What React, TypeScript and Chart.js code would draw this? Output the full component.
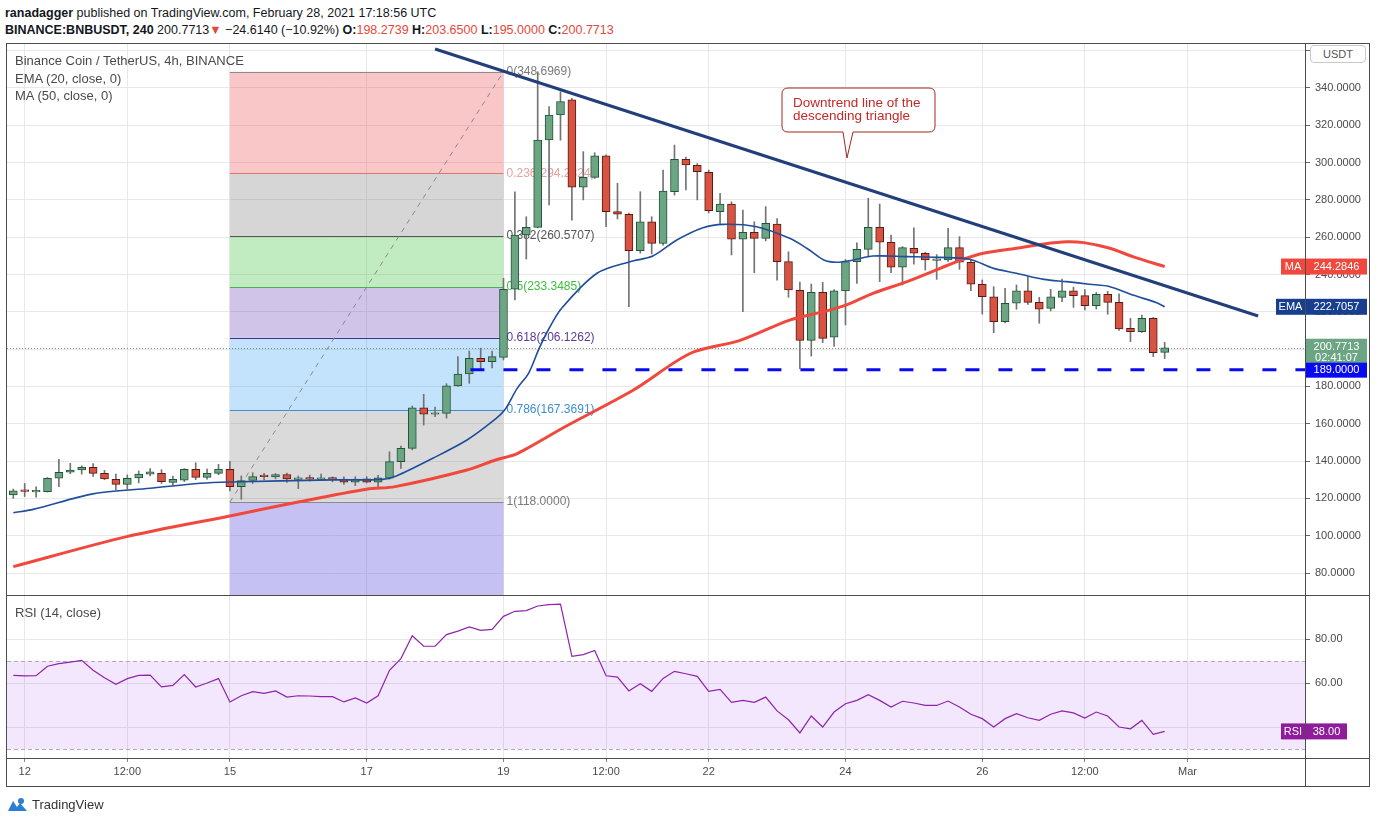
import React, { useEffect, useRef } from "react";
import { Chart, registerables } from "chart.js";

Chart.register(...registerables);

const FONT = "'Liberation Sans', Arial, sans-serif";

// ---- OHLC (4h candles, Feb 11 20:00 -> Feb 28 16:00) ----
const opens = [121.8, 124.2, 123.5, 123.6, 130.8, 134, 135.2, 136.6, 133.4, 130.2,
  127.5, 131, 133, 133.4, 128.6, 129.8, 135.6, 131.3, 133.4, 135.6,
  126.3, 129.6, 132.5, 131.5, 132.8, 130.2, 131, 130.2, 130.5, 130.4,
  128.7, 130.5, 128.7, 130.8, 139.7, 146.8, 168.6, 165.1, 165.6, 180.3,
  186.7, 195.1, 193.3, 195.6, 232.1, 261.2, 265.3, 312.1, 325.5, 333.6,
  286.8, 292.1, 303.7, 273.7, 272.3, 252.8, 268.3, 256.7, 284.4, 301.8,
  298.6, 294.8, 273.7, 277.8, 258.9, 262.6, 259.4, 267.1, 246.9, 231.5,
  204.7, 230.5, 206.4, 231.2, 246.9, 253.5, 265.3, 257.3, 243.9, 254.1,
  251.4, 247.6, 247.8, 254.4, 246.6, 234.8, 228.1, 214.7, 224.6, 231.3,
  225.1, 221.9, 227.8, 231.3, 228.7, 223.3, 229.4, 225.1, 211.2, 209.4,
  216.5, 198.2739];
const highs = [125, 128, 126.2, 131.2, 141, 138.8, 137.5, 138.7, 135, 133,
  132.6, 134.7, 136, 135.4, 132, 136, 139.1, 135.7, 138.3, 139.8,
  132, 133.8, 133.5, 133.3, 133.6, 132, 132.5, 133, 131.5, 131.6,
  131.6, 131.6, 132.3, 145, 148, 169.5, 175.8, 169, 181.5, 196,
  199, 200.5, 199, 238, 284.4, 271, 348.7, 330, 338, 334.5,
  305.9, 305.3, 304.2, 288.9, 273, 284.4, 271, 296, 309.4, 303,
  299.5, 296, 283.5, 279, 274.6, 268.3, 276.4, 270, 252.2, 236,
  234.9, 235.8, 232, 248, 257, 280.9, 277.8, 261.2, 255, 265.1,
  252, 250.7, 264.8, 260.3, 248, 237.1, 233.5, 232.6, 234.4, 238.9,
  227.8, 232.1, 237.5, 233.2, 232, 230.4, 231, 229.6, 216.5, 218.3,
  217, 203.65];
const lows = [120, 121, 120.6, 123.4, 126.3, 133.2, 133, 131.8, 130, 124.7,
  125, 128.3, 132, 128, 127, 129, 130, 130.3, 132.7, 124,
  119.5, 128, 130, 130.5, 128.6, 125.2, 129.3, 129.6, 128.9, 127.5,
  126.8, 128.3, 126.3, 130.3, 136, 146, 159.3, 163.8, 163, 180,
  181.7, 188.8, 190, 194.2, 226.4, 248.3, 265, 277.3, 312, 269.2,
  280, 291.5, 265.6, 269.8, 222.8, 251.5, 251, 255.8, 282.6, 285.3,
  280, 273, 267.1, 250.5, 220.1, 241, 258, 237, 227.8, 189.5,
  196.3, 203.5, 201.5, 213, 235.3, 249.6, 236.2, 241, 234.4, 245.5,
  242.4, 237.4, 247, 242.8, 231.3, 218.8, 208.8, 214, 221.4, 224,
  213.9, 220.5, 225.5, 222.4, 221, 221.5, 218.7, 210, 204, 209,
  196, 195];
const closes = [124, 123.8, 123.7, 130.8, 134, 135.2, 136.6, 133.4, 130.4, 127.5,
  130.8, 133, 134.2, 129, 130.2, 135.6, 131.3, 133.4, 135.7, 126.3,
  129.6, 131.7, 131.7, 132.8, 130.5, 131, 130.3, 130.5, 130.3, 128.7,
  130.4, 128.7, 131, 139.7, 146.8, 168.6, 165.1, 165.8, 180.3, 186.7,
  195.1, 193.3, 196, 232.1, 261.2, 265.3, 312.1, 325.5, 332.7, 286.8,
  292.1, 303.7, 273.7, 272.3, 252.8, 268.3, 256.7, 284.8, 301.8, 298.7,
  295.1, 274.2, 277.8, 258.9, 262.6, 259.4, 267.5, 246.9, 231.7, 204.7,
  230.5, 205.8, 231.2, 246.9, 253.5, 265.3, 257.3, 243.9, 254.4, 251.4,
  247.8, 248, 254.4, 246.6, 234.8, 228.1, 214.7, 224.6, 231.3, 225.1,
  221.4, 228.1, 231.3, 228.7, 223.3, 229.4, 225.1, 210.8, 209.4, 216.5,
  198.1, 200.7713];

// ---- EMA(20) & MA(50) (candle index, value) ----
const emaIdx = [0, 1.75, 7, 12, 16.4, 19, 28, 32.4, 33.6, 36.8, 39.8, 42, 43.1, 44.2, 45.2, 46.1, 46.9, 48.1,
  51.2, 54.1, 56.1, 58.2, 60.5, 62.3, 65.2, 68.1, 69.6, 71.1, 72.2, 73.7, 75.4, 78.4, 81.3, 83.9, 86, 88,
  90.4, 92.4, 94.4, 96.2, 98.2, 100.3, 101];
const emaVals = [112.3, 114.1, 122.4, 125.4, 128.1, 128.8, 129.9, 130.2, 132, 141.5, 151.3, 161.1, 167.4, 179, 187, 200, 210, 221.9,
  240.7, 246.9, 249.9, 258.5, 265.1, 266.9, 265.6, 259.4, 254.1, 247.8, 246.6, 247.8, 249.9, 249.6, 249.2, 248.2, 243.3, 240.7,
  237.4, 236.2, 234.8, 233.5, 229, 224.9, 222.7057];
const maIdx = [0, 9.95, 19, 25.1, 31, 33.5, 39.8, 42.3, 44.2, 48.4, 54.4, 59.4, 63.7, 68.1, 71.1, 73.1, 75.4, 78.4,
  81.3, 83, 85.1, 88, 90.4, 92.4, 93.9, 96.2, 98.2, 101];
const maVals = [83.4, 99.5, 110.6, 118.2, 124.9, 126.3, 135.2, 140.6, 144, 158.4, 178.1, 197.8, 204.6, 215.6, 220.1, 223.7, 229.9, 236.2,
  243.3, 247.5, 251.4, 254.1, 256.4, 257.6, 257.1, 254.1, 249.6, 244.2846];

// ---- RSI(14) ----
const rsiVals = [63.5, 63.2, 63.3, 67.6, 68.8, 69.5, 70.3, 65.8, 62.4, 59.4,
  62.0, 63.5, 63.6, 58.2, 58.9, 63.8, 58.2, 60.0, 62.0, 51.4,
  54.2, 56.1, 55.3, 56.4, 53.6, 54.2, 54.1, 53.8, 53.8, 51.4,
  53.2, 50.9, 54.2, 65.8, 71.1, 81.5, 76.7, 76.7, 82.0, 83.6,
  85.5, 83.9, 84.4, 90.3, 92.6, 92.9, 95.0, 95.6, 95.8, 72.1,
  72.9, 74.8, 63.3, 62.7, 56.4, 59.7, 56.2, 62.1, 65.3, 64.2,
  63.0, 56.2, 57.1, 51.2, 52.1, 51.2, 53.6, 47.3, 43.3, 37.3,
  45.0, 40.0, 46.8, 50.6, 52.1, 54.7, 52.1, 49.1, 51.7, 50.9,
  49.8, 49.8, 51.8, 49.1, 45.8, 43.8, 40.0, 43.8, 46.1, 44.2,
  43.0, 45.8, 47.3, 46.4, 44.1, 46.8, 45.0, 40.0, 39.2, 43.0,
  36.7, 38.0];
const rsiUpper = 70;
const rsiLower = 30;

// ---- axes ----
const priceTicks = [80, 100, 120, 140, 160, 180, 200, 220, 240, 260, 280, 300, 320, 340, 360];
const rsiTicks = [40, 60, 80];
const rsiLabelledTicks = [60, 80];
const timeTickIdx = [1, 10, 19, 31, 43, 52, 61, 73, 85, 94, 103];
const timeTickLabels = ["12", "12:00", "15", "17", "19", "12:00", "22", "24", "26", "12:00", "Mar"];

// ---- drawings ----
const fibLevels = [0, 0.236, 0.382, 0.5, 0.618, 0.786, 1];
const fibPrices = [348.6969, 294.2324, 260.5707, 233.3485, 206.1262, 167.3691, 118.0];
const fibStartIdx = 19;
const fibEndIdx = 43;
const trendIdx = [37, 109.2];
const trendVals = [360.9, 217.8];
const supportLevel = 189;
const supportIdx = [40.1, 113.4];
const lastPrice = 200.7713;
const emaLast = 222.7057;
const maLast = 244.2846;
const rsiLast = 38.0;

const fibZoneColors = [
  "rgba(235,80,80,0.32)", "rgba(120,120,120,0.30)", "rgba(76,200,76,0.35)", "rgba(100,60,180,0.30)",
  "rgba(33,150,243,0.27)", "rgba(120,120,120,0.27)", "rgba(90,80,220,0.35)"];
const fibLineColors = ["#8a8a8a", "#e57373", "#555555", "#4caf50", "#4a2a8c", "#3d8fd1", "#8a8a8a"];
const fibLabelColors = ["#7a7a7a", "#e8a0a0", "#555555", "#3fbf3f", "#5a3a9a", "#3d8fd1", "#7a7a7a"];

const UP = "#6ba583", UP_B = "#225437", DN = "#d75442", DN_B = "#5b1a13";

function tag(ctx: CanvasRenderingContext2D, x: number, y: number, w: number, h: number, bg: string, lines: string[], first = 8.5, step = 13) {
  ctx.fillStyle = bg;
  ctx.fillRect(x, y, w, h);
  ctx.fillStyle = "#ffffff";
  ctx.font = `11px ${FONT}`;
  ctx.textAlign = "center";
  ctx.textBaseline = "middle";
  lines.forEach((t, k) => ctx.fillText(t, x + w / 2, y + first + k * step));
}

const mainPlugin = {
  id: "mainDecor",
  beforeDatasetsDraw(chart: any) {
    const { ctx, chartArea: ca, scales } = chart;
    const x = scales.x, y = scales.y;
    ctx.save();
    ctx.beginPath();
    ctx.rect(ca.left, ca.top, ca.right - ca.left, ca.bottom - ca.top);
    ctx.clip();
    const x0 = x.getPixelForValue(fibStartIdx), x1 = x.getPixelForValue(fibEndIdx);
    for (let k = 0; k < fibPrices.length; k++) {
      const ya = y.getPixelForValue(fibPrices[k]);
      const yb = k + 1 < fibPrices.length ? y.getPixelForValue(fibPrices[k + 1]) : ca.bottom;
      ctx.fillStyle = fibZoneColors[k];
      ctx.fillRect(x0, ya, x1 - x0, yb - ya);
    }
    ctx.lineWidth = 1;
    fibPrices.forEach((p, k) => {
      const yy = Math.round(y.getPixelForValue(p)) + 0.5;
      ctx.strokeStyle = fibLineColors[k];
      ctx.beginPath();
      ctx.moveTo(x0, yy);
      ctx.lineTo(x1, yy);
      ctx.stroke();
    });
    ctx.font = `12px ${FONT}`;
    ctx.textAlign = "left";
    ctx.textBaseline = "middle";
    fibPrices.forEach((p, k) => {
      ctx.fillStyle = fibLabelColors[k];
      ctx.fillText(`${fibLevels[k]}(${p.toFixed(4)})`, x1 + 3, y.getPixelForValue(p));
    });
    // current price dotted line
    const yp = Math.round(y.getPixelForValue(lastPrice)) + 0.5;
    ctx.setLineDash([1, 2]);
    ctx.strokeStyle = "#8a8a8a";
    ctx.beginPath();
    ctx.moveTo(ca.left, yp);
    ctx.lineTo(ca.right, yp);
    ctx.stroke();
    ctx.restore();
  },
  afterDraw(chart: any) {
    const { ctx, chartArea: ca, scales } = chart;
    const y = scales.y;
    ctx.save();
    const r = ca.right;
    const yMa = y.getPixelForValue(maLast);
    tag(ctx, r - 24, yMa - 8, 24, 16, "#f0483c", ["MA"]);
    tag(ctx, r + 1, yMa - 8, 61, 16, "#f0483c", [maLast.toFixed(4)]);
    const yEma = y.getPixelForValue(emaLast);
    tag(ctx, r - 29, yEma - 8, 29, 16, "#173f8e", ["EMA"]);
    tag(ctx, r + 1, yEma - 8, 61, 16, "#173f8e", [emaLast.toFixed(4)]);
    const yLast = y.getPixelForValue(lastPrice);
    tag(ctx, r + 1, yLast - 9, 61, 27, UP, [lastPrice.toFixed(4), "02:41:07"], 8, 11.5);
    const ySup = y.getPixelForValue(supportLevel);
    tag(ctx, r + 1, ySup - 7, 61, 15, "#0a0af0", [supportLevel.toFixed(4)], 7.5);
    ctx.restore();
  },
};

const rsiPlugin = {
  id: "rsiDecor",
  beforeDatasetsDraw(chart: any) {
    const { ctx, chartArea: ca, scales } = chart;
    const y = scales.y;
    const yt = y.getPixelForValue(rsiUpper), yb = y.getPixelForValue(rsiLower);
    ctx.save();
    ctx.fillStyle = "rgba(150,60,230,0.12)";
    ctx.fillRect(ca.left, yt, ca.right - ca.left, yb - yt);
    ctx.strokeStyle = "#b3a8be";
    ctx.lineWidth = 1;
    ctx.setLineDash([4, 3]);
    [yt, yb].forEach((v) => {
      const yy = Math.round(v) + 0.5;
      ctx.beginPath();
      ctx.moveTo(ca.left, yy);
      ctx.lineTo(ca.right, yy);
      ctx.stroke();
    });
    ctx.restore();
  },
  afterDraw(chart: any) {
    const { ctx, chartArea: ca, scales } = chart;
    const yy = scales.y.getPixelForValue(rsiLast);
    ctx.save();
    tag(ctx, ca.right - 24, yy - 8, 24, 16, "#8e1c9b", ["RSI"]);
    tag(ctx, ca.right + 1, yy - 8, 41, 16, "#8e1c9b", [rsiLast.toFixed(2)]);
    ctx.restore();
  },
};

const GRID = "#e8e8ea";
const TICK_TXT = "#4a4a4a";

export default function App() {
  const mainRef = useRef<HTMLCanvasElement>(null);
  const rsiRef = useRef<HTMLCanvasElement>(null);

  useEffect(() => {
    document.body.style.margin = "0";
    Chart.defaults.font.family = FONT;
    const idx = opens.map((_, i) => i);
    const isUp = idx.map((i) => closes[i] >= opens[i]);

    const main = new Chart(mainRef.current as HTMLCanvasElement, {
      type: "bar",
      data: {
        datasets: [
          {
            type: "line",
            data: [{ x: fibStartIdx, y: fibPrices[6] }, { x: fibEndIdx, y: fibPrices[0] }],
            borderColor: "#8a8a8a", borderWidth: 1, borderDash: [5, 5], pointRadius: 0, order: 9,
          } as any,
          {
            type: "bar",
            data: idx.map((i) => ({ x: i, y: [lows[i], highs[i]] })),
            backgroundColor: "#737375", barThickness: 1, grouped: false, order: 8,
          } as any,
          {
            type: "bar",
            data: idx.map((i) => ({ x: i, y: [opens[i], closes[i]] })),
            backgroundColor: idx.map((i) => (isUp[i] ? UP : DN)),
            borderColor: idx.map((i) => (isUp[i] ? UP_B : DN_B)),
            borderWidth: 1, borderSkipped: false, barThickness: 8, grouped: false, minBarLength: 1.5, order: 7,
          } as any,
          {
            type: "line",
            data: maIdx.map((v, k) => ({ x: v, y: maVals[k] })),
            borderColor: "#f0483d", borderWidth: 3, pointRadius: 0, tension: 0.3, order: 4,
          } as any,
          {
            type: "line",
            data: emaIdx.map((v, k) => ({ x: v, y: emaVals[k] })),
            borderColor: "#1f4e9c", borderWidth: 1.6, pointRadius: 0, tension: 0.3, order: 3,
          } as any,
          {
            type: "line",
            data: trendIdx.map((v, k) => ({ x: v, y: trendVals[k] })),
            borderColor: "#223f7c", borderWidth: 3, pointRadius: 0, order: 2,
          } as any,
          {
            type: "line",
            data: supportIdx.map((v) => ({ x: v, y: supportLevel })),
            borderColor: "#0a0af0", borderWidth: 3, borderDash: [14, 19], pointRadius: 0, order: 1,
          } as any,
        ],
      },
      options: {
        responsive: false,
        animation: false,
        devicePixelRatio: 1,
        events: [],
        layout: { padding: { left: 7, right: 0, top: 0, bottom: 0 } },
        plugins: { legend: { display: false }, tooltip: { enabled: false } },
        scales: {
          x: {
            type: "linear", min: -0.553, max: 113.31, offset: false,
            afterBuildTicks: (s: any) => { s.ticks = timeTickIdx.map((v) => ({ value: v })); },
            afterFit: (s: any) => { s.height = 0; s.paddingLeft = 0; s.paddingRight = 0; },
            ticks: { display: false },
            grid: { color: GRID, drawTicks: false, offset: false },
            border: { display: false },
          },
          y: {
            type: "linear", position: "right", min: 68.21, max: 364.12,
            afterBuildTicks: (s: any) => { s.ticks = priceTicks.map((v) => ({ value: v })); },
            afterFit: (s: any) => { s.width = 71; s.paddingTop = 0; s.paddingBottom = 0; },
            ticks: { callback: (v: any) => Number(v).toFixed(4), color: TICK_TXT, font: { size: 11, family: FONT }, padding: 5 },
            grid: { color: GRID, tickLength: 5, tickColor: "#666" },
            border: { display: false },
          },
        },
      } as any,
      plugins: [mainPlugin],
    });

    const rsi = new Chart(rsiRef.current as HTMLCanvasElement, {
      type: "line",
      data: {
        datasets: [
          {
            data: rsiVals.map((v, i) => ({ x: i, y: v })),
            borderColor: "#8e24aa", borderWidth: 1.2, pointRadius: 0,
          },
        ],
      },
      options: {
        responsive: false,
        animation: false,
        devicePixelRatio: 1,
        events: [],
        layout: { padding: { left: 7, right: 0, top: 0, bottom: 0 } },
        plugins: { legend: { display: false }, tooltip: { enabled: false } },
        scales: {
          x: {
            type: "linear", min: -0.553, max: 113.31, offset: false,
            afterBuildTicks: (s: any) => { s.ticks = timeTickIdx.map((v) => ({ value: v })); },
            afterFit: (s: any) => { s.height = 28; s.paddingLeft = 0; s.paddingRight = 0; },
            ticks: {
              autoSkip: false, maxRotation: 0, color: TICK_TXT, font: { size: 11, family: FONT }, padding: 3,
              callback: (v: any) => { const k = timeTickIdx.indexOf(Number(v)); return k >= 0 ? timeTickLabels[k] : ""; },
            },
            grid: { color: GRID, tickLength: 4, tickColor: "#888", offset: false },
            border: { display: false },
          },
          y: {
            type: "linear", position: "right", min: 25.91, max: 100,
            afterBuildTicks: (s: any) => { s.ticks = rsiTicks.map((v) => ({ value: v })); },
            afterFit: (s: any) => { s.width = 71; s.paddingTop = 0; s.paddingBottom = 0; },
            ticks: {
              callback: (v: any) => (rsiLabelledTicks.includes(Number(v)) ? Number(v).toFixed(2) : ""),
              color: TICK_TXT, font: { size: 11, family: FONT }, padding: 5,
            },
            grid: { color: GRID, tickLength: 5, tickColor: "#666" },
            border: { display: false },
          },
        },
      } as any,
      plugins: [rsiPlugin],
    });

    return () => {
      main.destroy();
      rsi.destroy();
    };
  }, []);

  const red = { color: "#e5483a" };
  const line = (style: React.CSSProperties): React.CSSProperties => ({ position: "absolute", background: "#4d4d4d", ...style });

  return (
    <div style={{ position: "relative", width: 1376, height: 823, background: "#fff", overflow: "hidden", fontFamily: FONT }}>
      <div style={{ position: "absolute", left: 5, top: 5, fontSize: 12.5, color: "#131722", whiteSpace: "nowrap", lineHeight: "16px" }}>
        <span style={{ fontWeight: 600 }}>ranadagger</span> published on TradingView.com, February 28, 2021 17:18:56 UTC
      </div>
      <div style={{ position: "absolute", left: 5, top: 22, fontSize: 12.5, color: "#131722", whiteSpace: "nowrap", lineHeight: "16px" }}>
        <span style={{ fontWeight: 600 }}>BINANCE:BNBUSDT, 240</span> 200.7713<span style={red}>▼</span> −24.6140 (−10.92%){" "}
        <b>O:</b><span style={red}>198.2739</span> <b>H:</b><span style={red}>203.6500</span>{" "}
        <b>L:</b><span style={red}>195.0000</span> <b>C:</b><span style={red}>200.7713</span>
      </div>

      <canvas ref={mainRef} width={1376} height={552} style={{ position: "absolute", left: 0, top: 43 }} />
      <canvas ref={rsiRef} width={1376} height={191} style={{ position: "absolute", left: 0, top: 595 }} />

      {/* frame */}
      <div style={line({ left: 6, top: 43, width: 1364, height: 1 })} />
      <div style={line({ left: 6, top: 786, width: 1364, height: 1 })} />
      <div style={line({ left: 6, top: 43, width: 1, height: 744 })} />
      <div style={line({ left: 1369, top: 43, width: 1, height: 744 })} />
      <div style={line({ left: 6, top: 595, width: 1364, height: 1 })} />
      <div style={line({ left: 6, top: 758, width: 1364, height: 1 })} />
      <div style={line({ left: 1305, top: 43, width: 1, height: 744 })} />

      {/* legends */}
      <div style={{ position: "absolute", left: 15, top: 52, fontSize: 13, color: "#4a4a4a", lineHeight: "17.5px", whiteSpace: "nowrap" }}>
        <div>Binance Coin / TetherUS, 4h, BINANCE</div>
        <div>EMA (20, close, 0)</div>
        <div>MA (50, close, 0)</div>
      </div>
      <div style={{ position: "absolute", left: 15, top: 605, fontSize: 13, color: "#4a4a4a", whiteSpace: "nowrap" }}>RSI (14, close)</div>

      {/* currency badge */}
      <div style={{ position: "absolute", left: 1310, top: 45, width: 54, height: 16, border: "1px solid #c8c8c8", borderRadius: 4, background: "#fff", fontSize: 11, color: "#555", textAlign: "center", lineHeight: "16px" }}>USDT</div>

      {/* callout */}
      <svg width={1376} height={823} style={{ position: "absolute", left: 0, top: 0, pointerEvents: "none" }}>
        <path d="M 788 88 H 929 Q 935 88 935 94 V 126 Q 935 132 929 132 H 853 L 847 158 L 843 132 H 788 Q 782 132 782 126 V 94 Q 782 88 788 88 Z" fill="#fff" stroke="#a3261f" strokeWidth={1} />
        <g transform="translate(8,797)">
          <path d="M0 14 L5 4 L9 10 L12 6 L19 14 Z" fill="#2a7fd4" />
          <circle cx="13" cy="4" r="3" fill="#2a7fd4" />
        </g>
      </svg>
      <div style={{ position: "absolute", left: 793, top: 96, fontSize: 13.5, color: "#c62828", lineHeight: "13px", whiteSpace: "nowrap" }}>
        <div>Downtrend line of the</div>
        <div>descending triangle</div>
      </div>

      <div style={{ position: "absolute", left: 32, top: 797, fontSize: 13, color: "#333", whiteSpace: "nowrap" }}>TradingView</div>
    </div>
  );
}
